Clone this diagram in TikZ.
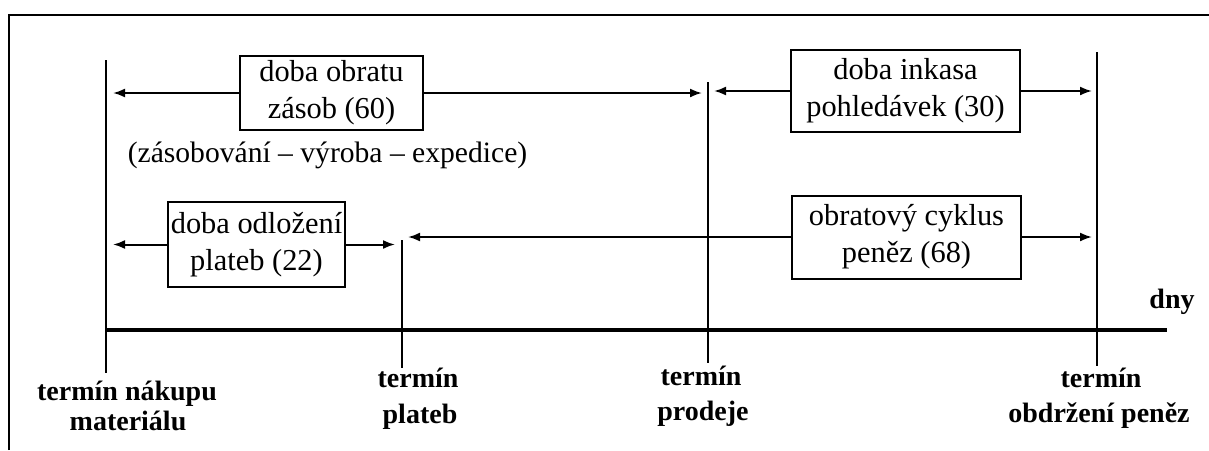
\documentclass[tikz,border=0pt]{standalone}
\usepackage{fontspec}
\setmainfont{Liberation Serif}
\usetikzlibrary{arrows.meta}
\begin{document}
\begin{tikzpicture}[x=0.5pt,y=-0.5pt,
  boxnode/.style={draw,line width=1pt,align=center,inner sep=0pt,
    font=\fontsize{15.2}{18.5}\selectfont},
  conn/.style={line width=1pt,-{Latex[length=6pt,width=4.5pt]}},
  tickline/.style={line width=1pt},
  axisline/.style={line width=1.6pt},
  lbl/.style={anchor=base,inner sep=0pt,font=\fontsize{14}{17}\selectfont\bfseries},
  plain/.style={inner sep=0pt,font=\fontsize{14.8}{18.5}\selectfont},
  ]
\useasboundingbox (0,0) rectangle (1209,450);
% frame
\coordinate (f1) at (9,450);
\coordinate (f2) at (9,15);
\coordinate (f3) at (1209,15);
\draw[line width=1pt] (f1) -- (f2) -- (f3);
% vertical marks
\coordinate (v1t) at (106,60);   \coordinate (v1b) at (106,373);
\coordinate (v2t) at (402,240);  \coordinate (v2b) at (402,368);
\coordinate (v3t) at (708,82);   \coordinate (v3b) at (708,363);
\coordinate (v4t) at (1097,52);  \coordinate (v4b) at (1097,366);
\draw[tickline] (v1t) -- (v1b);
\draw[tickline] (v2t) -- (v2b);
\draw[tickline] (v3t) -- (v3b);
\draw[tickline] (v4t) -- (v4b);
% axis
\coordinate (ax1) at (106,330);
\coordinate (ax2) at (1167,330);
\draw[axisline] (ax1) -- (ax2);
\node[lbl] (dny) at (1172,308) {dny};
% boxes
\node[boxnode,minimum width=91.5pt,minimum height=37pt] (b1) at (331.5,93) {doba obratu\\zásob (60)};
\node[boxnode,minimum width=114.5pt,minimum height=41pt] (b2) at (905.5,91) {doba inkasa\\pohledávek (30)};
\node[boxnode,minimum width=88.5pt,minimum height=42.5pt] (b3) at (256.5,244.5) {doba odložení\\plateb (22)};
\node[boxnode,minimum width=114.5pt,minimum height=41.5pt] (b4) at (906.5,237) {obratový cyklus\\peněz (68)};
\node[plain] (sub) at (327.5,155) {(zásobování – výroba – expedice)};
% arrow tips
\coordinate (t1l) at (113,93);
\coordinate (t1r) at (702,93);
\coordinate (t2l) at (714,91);
\coordinate (t2r) at (1092,91);
\coordinate (t3l) at (113,244.5);
\coordinate (t3r) at (395,244.5);
\coordinate (t4l) at (408,237);
\coordinate (t4r) at (1092,237);
\draw[conn] (b1.west) -- (t1l);
\draw[conn] (b1.east) -- (t1r);
\draw[conn] (b2.west) -- (t2l);
\draw[conn] (b2.east) -- (t2r);
\draw[conn] (b3.west) -- (t3l);
\draw[conn] (b3.east) -- (t3r);
\draw[conn] (b4.west) -- (t4l);
\draw[conn] (b4.east) -- (t4r);
% labels
\node[lbl] (l1a) at (127,400) {termín nákupu};
\node[lbl] (l1b) at (128,430) {materiálu};
\node[lbl] (l2a) at (418,387) {termín};
\node[lbl] (l2b) at (420,423) {plateb};
\node[lbl] (l3a) at (701,385) {termín};
\node[lbl] (l3b) at (703,420) {prodeje};
\node[lbl] (l4a) at (1101,387) {termín};
\node[lbl] (l4b) at (1099,422) {obdržení peněz};
\end{tikzpicture}
\end{document}
